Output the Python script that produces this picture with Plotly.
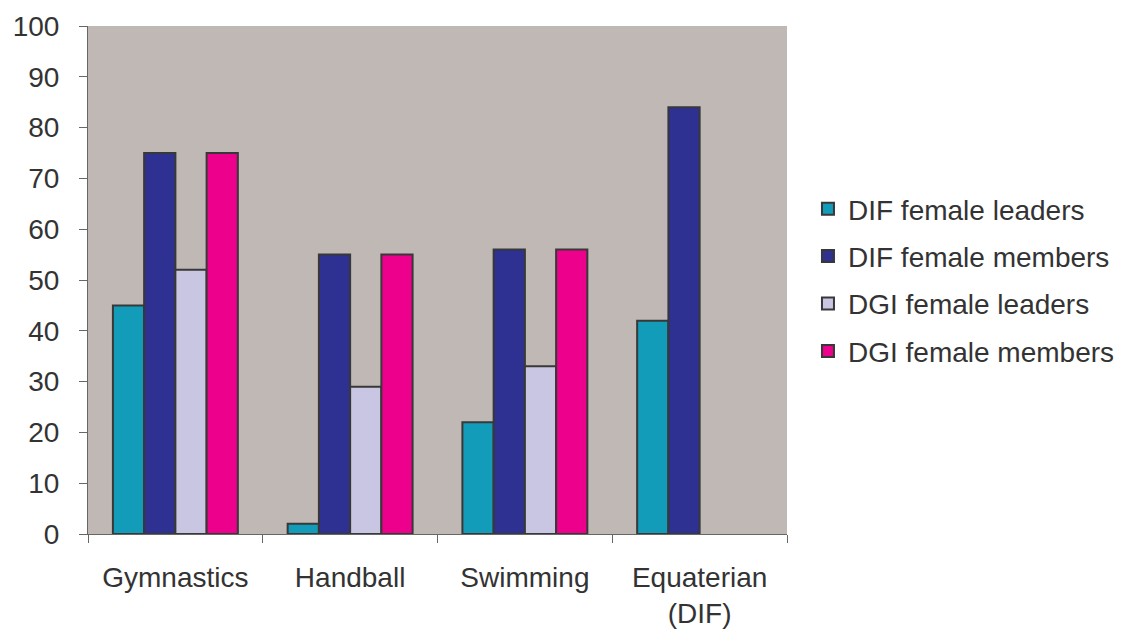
import plotly.graph_objects as go

categories = ["Gymnastics", "Handball", "Swimming", "Equaterian<br>(DIF)"]
series_names = [
    "DIF female leaders",
    "DIF female members",
    "DGI female leaders",
    "DGI female members",
]
dif_leaders = [45, 2, 22, 42]
dif_members = [75, 55, 56, 84]
dgi_leaders = [52, 29, 33, None]
dgi_members = [75, 55, 56, None]
y_ticks = [0, 10, 20, 30, 40, 50, 60, 70, 80, 90, 100]

colors = ["#129CBA", "#2E3192", "#C8C6E2", "#EC008C"]
values = [dif_leaders, dif_members, dgi_leaders, dgi_members]

FONT = "Liberation Sans, Arial, sans-serif"
TEXT = "#333333"
FS = 28

fig = go.Figure()
for name, vals, col in zip(series_names, values, colors):
    fig.add_trace(go.Bar(
        name=name,
        x=categories,
        y=vals,
        marker=dict(color=col, line=dict(color="#383838", width=2)),
        legendgroup=name,
    ))

fig.update_layout(
    width=1147,
    height=634,
    margin=dict(l=88, r=360, t=26, b=100),
    paper_bgcolor="white",
    plot_bgcolor="#C0B8B5",
    barmode="group",
    bargap=0.285,
    bargroupgap=0,
    font=dict(family=FONT, size=FS, color=TEXT),
    legend=dict(
        x=1.03, xanchor="left",
        y=0.5, yanchor="middle",
        traceorder="grouped",
        tracegroupgap=8,
        font=dict(family=FONT, size=FS, color=TEXT),
        itemwidth=30,
    ),
    xaxis=dict(
        showline=True, linecolor="#666666", linewidth=1,
        ticks="outside", ticklen=8, tickcolor="#666666",
        tickson="boundaries",
        ticklabelstandoff=18,
        showgrid=False,
        automargin=False,
        tickfont=dict(family=FONT, size=FS, color=TEXT),
    ),
    yaxis=dict(
        range=[0, 100],
        tickvals=y_ticks,
        showline=True, linecolor="#666666", linewidth=1,
        ticks="outside", ticklen=8, tickcolor="#666666",
        ticklabelstandoff=14,
        showgrid=False, zeroline=False,
        automargin=False,
        tickfont=dict(family=FONT, size=FS, color=TEXT),
    ),
)

fig.write_html("out.html")
